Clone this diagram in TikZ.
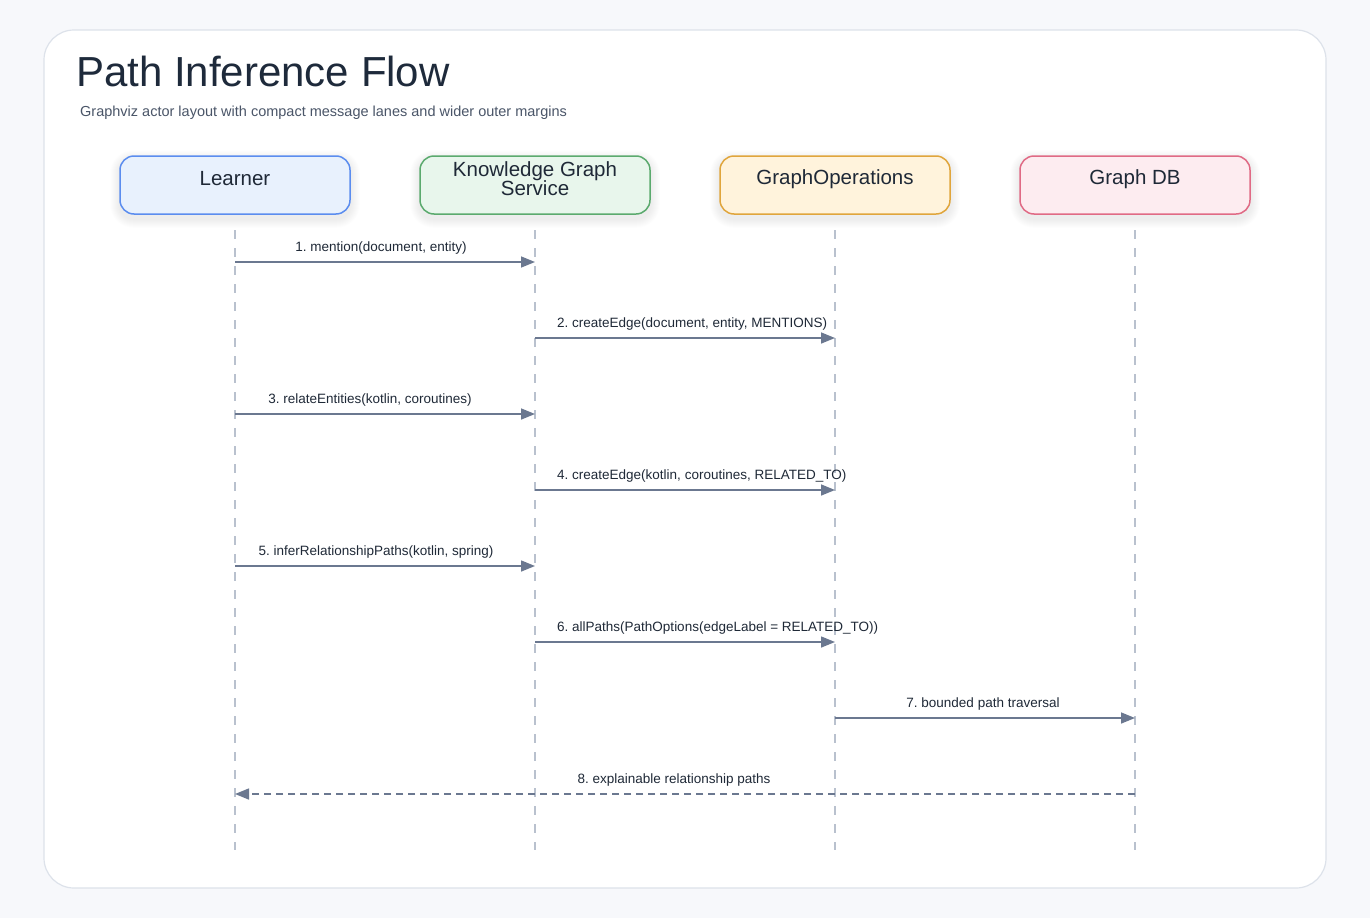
\documentclass[tikz,border=0pt]{standalone}
\usepackage{fontspec}
\setmainfont{Liberation Sans}
\frenchspacing
\usetikzlibrary{arrows.meta}
\definecolor{bgc}{HTML}{F7F8FB}
\definecolor{cardline}{HTML}{DDE2EA}
\definecolor{titlec}{HTML}{1E2A3B}
\definecolor{subc}{HTML}{4A5568}
\definecolor{txtc}{HTML}{1F2937}
\definecolor{arrc}{HTML}{6B7890}
\definecolor{lifec}{HTML}{B9C1CE}
\definecolor{lfill}{HTML}{E8F1FD}\definecolor{ldraw}{HTML}{5B8DEF}
\definecolor{kfill}{HTML}{E8F6EC}\definecolor{kdraw}{HTML}{5BAA6E}
\definecolor{gfill}{HTML}{FFF3DC}\definecolor{gdraw}{HTML}{E0A53C}
\definecolor{dfill}{HTML}{FDECF0}\definecolor{ddraw}{HTML}{E06A85}
\pgfdeclarelayer{background}
\pgfsetlayers{background,main}
\begin{document}
\begin{tikzpicture}[x=1pt,y=-1pt,
  actor/.style={rectangle, rounded corners=14pt, minimum width=230pt, minimum height=58pt,
    line width=1.5pt},
  actortext/.style={text=txtc, font=\fontsize{20.5}{20}\selectfont, align=center, inner sep=0pt},
  lifeline/.style={draw=lifec, line width=1.2pt, dash pattern=on 9pt off 9pt},
  msg/.style={draw=arrc, line width=1.5pt, -{Triangle[length=14pt,width=11pt]}},
  ret/.style={msg, dash pattern=on 7pt off 5pt},
  mlabel/.style={anchor=base, text=txtc, font=\fontsize{13.5}{15}\selectfont, inner sep=0pt}
]
\useasboundingbox (0,0) rectangle (1370,918);

\node[anchor=base west, inner sep=0pt, text=titlec, font=\fontsize{42}{46}\selectfont] (title) at (76,86) {Path Inference Flow};
\node[anchor=base west, inner sep=0pt, text=subc, font=\fontsize{14.5}{16}\selectfont] (subtitle) at (80,116) {Graphviz actor layout with compact message lanes and wider outer margins};

\node[actor, fill=lfill, draw=ldraw] (L) at (235,185) {};
\node[actor, fill=kfill, draw=kdraw] (K) at (535,185) {};
\node[actor, fill=gfill, draw=gdraw] (G) at (835,185) {};
\node[actor, fill=dfill, draw=ddraw] (D) at (1135,185) {};
\node[actortext] (Lt) at ([yshift=6pt]L.center) {Learner};
\node[actortext] (Kt) at ([yshift=6pt]K.center) {Knowledge Graph\\[-1pt]Service};
\node[actortext] (Gt) at ([yshift=6pt]G.center) {GraphOperations};
\node[actortext] (Dt) at ([yshift=6pt]D.center) {Graph DB};

\begin{pgfonlayer}{background}
  \fill[bgc] (0,0) rectangle (1370,918);
  \draw[fill=white, draw=cardline, line width=1.2pt, rounded corners=30pt] (44,30) rectangle (1326,888);
  \foreach \n in {L,K,G,D}{
    \foreach \s in {1,...,9}{
      \fill[black, opacity=0.009, rounded corners={14pt+\s pt}]
        ([xshift=-\s pt, yshift={-\s pt-4pt}]\n.south west) rectangle ([xshift=\s pt, yshift={\s pt-4pt}]\n.north east);
    }
  }
\end{pgfonlayer}

\foreach \n in {L,K,G,D}{
  \coordinate (\n top) at (\n.south |- 0,230);
  \coordinate (\n bot) at (\n.south |- 0,850);
  \draw[lifeline] (\n top) -- (\n bot);
}

% message endpoints
\foreach \i/\a/\b/\y in {1/L/K/262, 2/K/G/338, 3/L/K/414, 4/K/G/490, 5/L/K/566, 6/K/G/642, 7/G/D/718, 8/D/L/794}{
  \coordinate (m\i s) at (\a top |- 0,\y);
  \coordinate (m\i e) at (\b top |- 0,\y);
}
\draw[msg] (m1s) -- (m1e);
\draw[msg] (m2s) -- (m2e);
\draw[msg] (m3s) -- (m3e);
\draw[msg] (m4s) -- (m4e);
\draw[msg] (m5s) -- (m5e);
\draw[msg] (m6s) -- (m6e);
\draw[msg] (m7s) -- (m7e);
\draw[ret] (m8s) -- (m8e);

\node[mlabel] (l1) at (381,251) {1. mention(document, entity)};
\node[mlabel, anchor=base west] (l2) at (557,327) {2. createEdge(document, entity, MENTIONS)};
\node[mlabel] (l3) at (370,403) {3. relateEntities(kotlin, coroutines)};
\node[mlabel, anchor=base west] (l4) at (557,479) {4. createEdge(kotlin, coroutines, RELATED\_TO)};
\node[mlabel] (l5) at (376,555) {5. inferRelationshipPaths(kotlin, spring)};
\node[mlabel, anchor=base west] (l6) at (557,631) {6. allPaths(PathOptions(edgeLabel = RELATED\_TO))};
\node[mlabel] (l7) at (983,707) {7. bounded path traversal};
\node[mlabel] (l8) at (674,783) {8. explainable relationship paths};
\end{tikzpicture}
\end{document}
